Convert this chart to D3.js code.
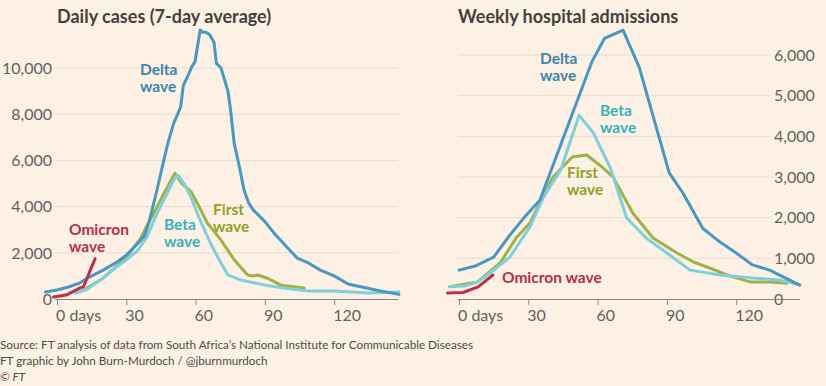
<!DOCTYPE html>
<html lang="en">
<head>
    <meta charset="UTF-8">
    <title>Omicron vs earlier waves</title>
    <script src="https://d3js.org/d3.v7.min.js"></script>
    <style>
        body { margin: 0; background: #fdf1e5; }
        svg { display: block; }
        text { font-family: Lato, "Open Sans", sans-serif; }
        .title { font-size: 18px; font-weight: 700; fill: #45403c; }
        .tick-label { font-size: 16px; fill: #66605c; }
        .grid { stroke: #e7ddd3; stroke-width: 1; }
        .axis-line { stroke: #8c857f; stroke-width: 1; }
        .wave-label { font-size: 15.5px; font-weight: 700; }
        .footer { font-size: 11.7px; fill: #4f4a46; }
        .series { fill: none; stroke-width: 3; stroke-linejoin: round; stroke-linecap: round; }
    </style>
</head>
<body>
<svg width="826" height="386"></svg>

<script>
    // Daily cases, 7-day average: [days since start, cases]
    const deltaCases = [[-5,300],[0,390],[5,520],[10,700],[14,950],[20,1250],[26,1600],[30,1900],[35,2400],[38,2750],[40,3400],[43,4600],[46,5900],[48,6750],[50.5,7600],[53.5,8300],[54.7,9250],[56.4,9600],[58.6,10100],[59.7,10250],[62,11650],[63,11550],[64.5,11550],[66,11450],[68,11100],[69,10200],[71,10000],[74,9000],[75,8300],[76.7,6750],[79,5700],[81,4700],[83,4150],[85,3850],[90,3350],[94,2850],[100,2200],[104,1770],[109,1550],[114,1250],[120,1000],[126,650],[132,520],[140,350],[148,200]];
    const betaCases = [[8,250],[13,420],[18.7,820],[23,1170],[30,1700],[35,2100],[39,2700],[43.3,3700],[47.8,4600],[50.5,5150],[52.5,5350],[55,5000],[58,4400],[62,3400],[66.5,2400],[71,1550],[74,1040],[79.6,820],[90,600],[98,480],[109,350],[120,350],[135,260],[148,300]];
    const firstCases = [[10,300],[20,900],[30,1800],[36,2600],[42.6,3850],[47,4700],[51,5450],[54,5000],[58,4650],[61,4100],[65,3300],[71,2550],[76.7,1700],[82.5,1040],[85,1000],[87,1040],[91,900],[97,600],[107,480]];
    const omicronCases = [[-1.5,90],[4,170],[10,480],[11.5,540],[16.5,1750]];

    // Weekly hospital admissions: [days since start, admissions]
    const deltaHosp = [[0,710],[7,810],[15,1030],[22,1570],[28,1990],[35,2430],[57.5,5830],[63,6410],[71,6610],[78,5700],[91,3100],[97,2600],[105.5,1740],[113,1400],[120,1130],[127,840],[134.5,710],[147.5,340]];
    const betaHosp = [[-4,300],[2.6,320],[8,420],[13.4,640],[22,1030],[30.7,1770],[36.5,2500],[44,3170],[52,4520],[58,4100],[65.4,3240],[72.6,1990],[81,1500],[90,1130],[100,710],[113,590],[127,515],[139,470],[147.5,340]];
    const firstHosp = [[-4,300],[8,420],[17.7,880],[25,1520],[30.7,1870],[40.7,3000],[49,3490],[55.3,3540],[61,3290],[66.7,3000],[75.3,2110],[84,1500],[94.4,1130],[101.5,910],[108.7,760],[116,590],[126,420],[134.6,420],[142,390]];
    const omicronHosp = [[-5,150],[1.7,160],[8.3,300],[14.7,590]];

    const xTicks = [0, 30, 60, 90, 120];
    const casesTicks = [0, 2000, 4000, 6000, 8000, 10000];
    const hospTicks = [0, 1000, 2000, 3000, 4000, 5000, 6000];

    const colors = {
        delta: "#4a97bf", deltaText: "#3c85ad",
        beta: "#7fd0dc", betaText: "#33b3be",
        first: "#a0b148", firstText: "#91a224",
        omicron: "#b8314b", omicronText: "#b52f4a"
    };

    const svg = d3.select("svg");
    const fmt = d3.format(",");

    function panel(opts) {
        const g = svg.append("g");
        const x = d3.scaleLinear().domain([0, 148]).range([opts.x0, opts.x0 + 148 * 2.31]);
        const y = d3.scaleLinear().domain([0, opts.yMax]).range([299, opts.yTop]);

        // gridlines
        g.selectAll(".grid").data(opts.yTicks.filter(d => d > 0)).enter().append("line")
            .attr("class", "grid")
            .attr("x1", opts.gridX1).attr("x2", opts.gridX2)
            .attr("y1", d => y(d)).attr("y2", d => y(d));

        // y labels
        g.selectAll(".ylab").data(opts.yTicks).enter().append("text")
            .attr("class", "tick-label")
            .attr("x", opts.labelX)
            .attr("y", d => y(d))
            .attr("dy", "0.36em")
            .attr("text-anchor", opts.labelAnchor)
            .text(d => fmt(d));

        // x axis
        g.append("line").attr("class", "axis-line")
            .attr("x1", opts.axisX1).attr("x2", opts.axisX2)
            .attr("y1", y(0) + 0.5).attr("y2", y(0) + 0.5);
        g.selectAll(".xtick").data(xTicks).enter().append("line")
            .attr("class", "axis-line")
            .attr("x1", d => x(d) + 0.5).attr("x2", d => x(d) + 0.5)
            .attr("y1", y(0)).attr("y2", y(0) + 6);
        g.selectAll(".xlab").data(xTicks).enter().append("text")
            .attr("class", "tick-label")
            .attr("x", d => x(d) - 1)
            .attr("y", 321)
            .text(d => d === 0 ? "0 days" : d);

        // title
        g.append("text").attr("class", "title")
            .attr("x", opts.titleX).attr("y", 23).text(opts.title);

        const line = d3.line().x(d => x(d[0])).y(d => y(d[1]));
        opts.series.forEach(s => {
            g.append("path").datum(s.data)
                .attr("class", "series")
                .attr("stroke", s.color)
                .attr("stroke-width", s.width || 3)
                .attr("d", line);
        });

        opts.labels.forEach(l => {
            const t = g.append("text").attr("class", "wave-label")
                .attr("fill", l.color)
                .attr("x", l.x).attr("y", l.y);
            l.lines.forEach((s, i) => {
                t.append("tspan").attr("x", l.x).attr("dy", i === 0 ? 0 : 17).text(s);
            });
        });
    }

    panel({
        x0: 57, yMax: 10000, yTop: 68,
        yTicks: casesTicks,
        gridX1: 55, gridX2: 398,
        labelX: 52, labelAnchor: "end",
        axisX1: 55, axisX2: 398,
        titleX: 57, title: "Daily cases (7-day average)",
        series: [
            { data: firstCases, color: colors.first },
            { data: betaCases, color: colors.beta },
            { data: deltaCases, color: colors.delta },
            { data: omicronCases, color: colors.omicron, width: 3.5 }
        ],
        labels: [
            { x: 140, y: 75, lines: ["Delta", "wave"], color: colors.deltaText },
            { x: 69, y: 235, lines: ["Omicron", "wave"], color: colors.omicronText },
            { x: 164, y: 230, lines: ["Beta", "wave"], color: colors.betaText },
            { x: 213, y: 215, lines: ["First", "wave"], color: colors.firstText }
        ]
    });

    panel({
        x0: 459, yMax: 6000, yTop: 55,
        yTicks: hospTicks,
        gridX1: 458, gridX2: 771,
        labelX: 774, labelAnchor: "start",
        axisX1: 458, axisX2: 800,
        titleX: 458, title: "Weekly hospital admissions",
        series: [
            { data: firstHosp, color: colors.first },
            { data: betaHosp, color: colors.beta },
            { data: deltaHosp, color: colors.delta },
            { data: omicronHosp, color: colors.omicron, width: 3.5 }
        ],
        labels: [
            { x: 540, y: 64, lines: ["Delta", "wave"], color: colors.deltaText },
            { x: 600, y: 116, lines: ["Beta", "wave"], color: colors.betaText },
            { x: 567, y: 178, lines: ["First", "wave"], color: colors.firstText },
            { x: 502, y: 283, lines: ["Omicron wave"], color: colors.omicronText }
        ]
    });

    // footer
    const footer = [
        "Source: FT analysis of data from South Africa\u2019s National Institute for Communicable Diseases",
        "FT graphic by John Burn-Murdoch / @jburnmurdoch"
    ];
    svg.selectAll(".footer").data(footer).enter().append("text")
        .attr("class", "footer")
        .attr("x", 0).attr("y", (d, i) => 349 + i * 16)
        .text(d => d);
    svg.append("text").attr("class", "footer")
        .attr("x", 0).attr("y", 381)
        .attr("font-style", "italic")
        .text("\u00a9 FT");
</script>
</body>
</html>
